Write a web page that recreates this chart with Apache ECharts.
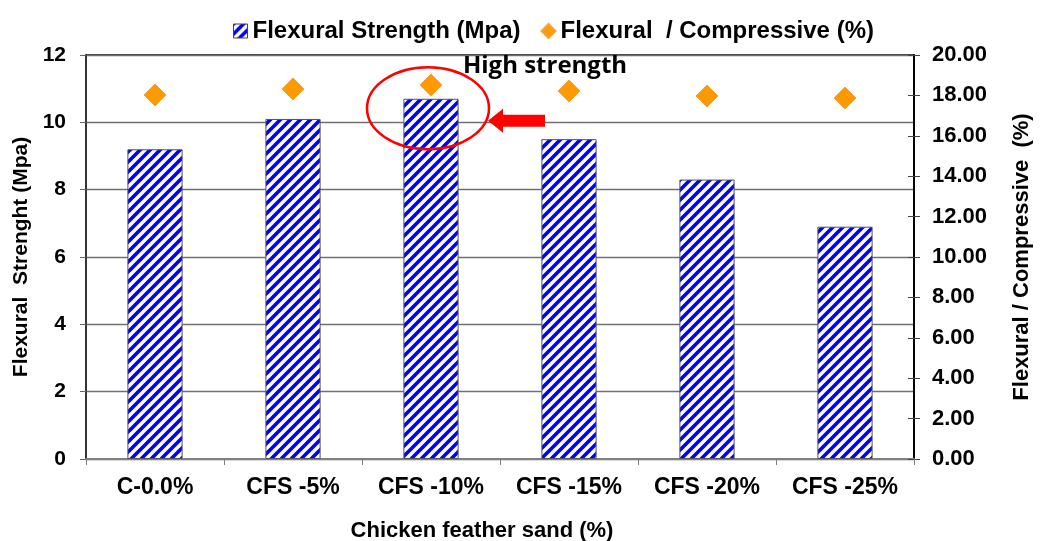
<!DOCTYPE html>
<html>
<head>
<meta charset="utf-8">
<script src="https://cdn.jsdelivr.net/npm/echarts@6/dist/echarts.min.js"></script>
<style>
html,body{margin:0;padding:0;background:#fff;}
#chart{width:1045px;height:541px;}
</style>
</head>
<body>
<div id="chart"></div>
<script>
const categories = ['C-0.0%', 'CFS -5%', 'CFS -10%', 'CFS -15%', 'CFS -20%', 'CFS -25%'];
const flexuralStrength = [9.2, 10.1, 10.7, 9.5, 8.3, 6.9];
const flexCompRatio = [18.02, 18.32, 18.51, 18.22, 17.97, 17.87];
const leftTicks = { min: 0, max: 12, interval: 2 };
const rightTicks = { min: 0, max: 20, interval: 2 };

const FONT = '"Liberation Sans", Arial, sans-serif';

function makeHatch() {
  const c = document.createElement('canvas');
  c.width = 10; c.height = 10;
  const g = c.getContext('2d');
  g.fillStyle = '#ffffff';
  g.fillRect(0, 0, 10, 10);
  g.strokeStyle = '#0000ff';
  g.lineWidth = 3.6;
  g.beginPath();
  g.moveTo(-5, 5); g.lineTo(5, -5);
  g.moveTo(0, 10); g.lineTo(10, 0);
  g.moveTo(5, 15); g.lineTo(15, 5);
  g.stroke();
  return c;
}
const hatch = makeHatch();

const chart = echarts.init(document.getElementById('chart'));
const option = {
  animation: false,
  backgroundColor: '#fff',
  grid: { left: 86, right: 131, top: 55, bottom: 82, outerBoundsMode: 'none', containLabel: false,
    show: true, borderColor: '#000', borderWidth: 1.5, backgroundColor: 'transparent' },
  legend: {
    left: 228, top: 14, itemGap: 20, itemWidth: 14, itemHeight: 14,
    textStyle: { fontFamily: FONT, fontWeight: 'bold', fontSize: 24, color: '#000' },
    data: [
      { name: 'Flexural Strength (Mpa)', icon: 'rect', itemStyle: { borderColor: '#444', borderWidth: 1 } },
      { name: 'Flexural  / Compressive (%)', icon: 'diamond' }
    ]
  },
  xAxis: {
    type: 'category',
    data: categories,
    name: 'Chicken feather sand (%)',
    nameLocation: 'middle',
    nameGap: 61,
    nameTextStyle: { fontFamily: FONT, fontWeight: 'bold', fontSize: 22, color: '#000', padding: [0, 36, 0, 0] },
    axisLine: { lineStyle: { color: '#808080', width: 2 } },
    axisTick: { show: true, alignWithLabel: false, length: 6, lineStyle: { color: '#808080' } },
    axisLabel: { fontFamily: FONT, fontWeight: 'bold', fontSize: 23, color: '#000', margin: 17 },
    splitLine: { show: false }
  },
  yAxis: [
    {
      type: 'value', position: 'left',
      min: leftTicks.min, max: leftTicks.max, interval: leftTicks.interval,
      name: 'Flexural  Strenght (Mpa)', nameLocation: 'middle', nameGap: 49, nameRotate: 90,
      nameTextStyle: { fontFamily: FONT, fontWeight: 'bold', fontSize: 21, color: '#000' },
      axisLine: { show: true, lineStyle: { color: '#333', width: 1.5 } },
      axisTick: { show: true, length: 6, lineStyle: { color: '#666' } },
      axisLabel: { fontFamily: FONT, fontWeight: 'bold', fontSize: 21, color: '#000', margin: 20 },
      splitLine: { show: true, lineStyle: { color: '#707070', width: 1.3 } }
    },
    {
      type: 'value', position: 'right',
      min: rightTicks.min, max: rightTicks.max, interval: rightTicks.interval,
      name: 'Flexural / Compressive  (%)', nameLocation: 'middle', nameGap: 97, nameRotate: 90,
      nameTextStyle: { fontFamily: FONT, fontWeight: 'bold', fontSize: 22, color: '#000' },
      axisLine: { show: true, lineStyle: { color: '#000', width: 2 } },
      axisTick: { show: true, length: 6, lineStyle: { color: '#444' } },
      axisLabel: { fontFamily: FONT, fontWeight: 'bold', fontSize: 22, color: '#000', margin: 18,
        formatter: v => v.toFixed(2) },
      splitLine: { show: false }
    },
    {
      type: 'value', position: 'right',
      min: rightTicks.min, max: rightTicks.max, interval: rightTicks.interval,
      axisLine: { show: false },
      axisTick: { show: true, inside: true, length: 6, lineStyle: { color: '#444' } },
      axisLabel: { show: false },
      splitLine: { show: false }
    }
  ],
  series: [
    {
      name: 'Flexural Strength (Mpa)',
      type: 'bar',
      yAxisIndex: 0,
      barWidth: '40%',
      data: flexuralStrength,
      itemStyle: { color: { image: hatch, repeat: 'repeat' }, borderColor: '#555', borderWidth: 1 }
    },
    {
      name: 'Flexural  / Compressive (%)',
      type: 'scatter',
      yAxisIndex: 1,
      symbol: 'diamond',
      symbolSize: 22,
      data: flexCompRatio,
      itemStyle: { color: '#ff9900', borderColor: '#f7a23a', borderWidth: 1, opacity: 1 },
      z: 5
    }
  ]
};
chart.setOption(option);

// Annotations positioned from the chart's own scales
const catX = chart.convertToPixel({ xAxisIndex: 0 }, categories[2]);
const ellY = chart.convertToPixel({ yAxisIndex: 0 }, 10.42);
const arrY = chart.convertToPixel({ yAxisIndex: 0 }, 10.05);
const topY = chart.convertToPixel({ yAxisIndex: 0 }, leftTicks.max);
const tipX = catX + 57;
chart.setOption({
  graphic: [
    {
      type: 'ellipse',
      shape: { cx: catX - 3, cy: ellY, rx: 61, ry: 41 },
      style: { fill: 'none', stroke: '#ff0000', lineWidth: 2.5 },
      z: 100
    },
    {
      type: 'polygon',
      shape: { points: [
        [tipX, arrY], [tipX + 15, arrY - 12], [tipX + 15, arrY - 6], [tipX + 57, arrY - 6],
        [tipX + 57, arrY + 6], [tipX + 15, arrY + 6], [tipX + 15, arrY + 12]
      ] },
      style: { fill: '#ff0000' },
      z: 100
    },
    {
      type: 'text',
      x: catX + 114, y: topY + 11,
      style: { text: 'High strength', fontFamily: '"Open Sans", sans-serif', fontWeight: 'bold', fontSize: 24,
        fill: '#000', align: 'center', verticalAlign: 'middle' },
      z: 100
    }
  ]
});
</script>
</body>
</html>
